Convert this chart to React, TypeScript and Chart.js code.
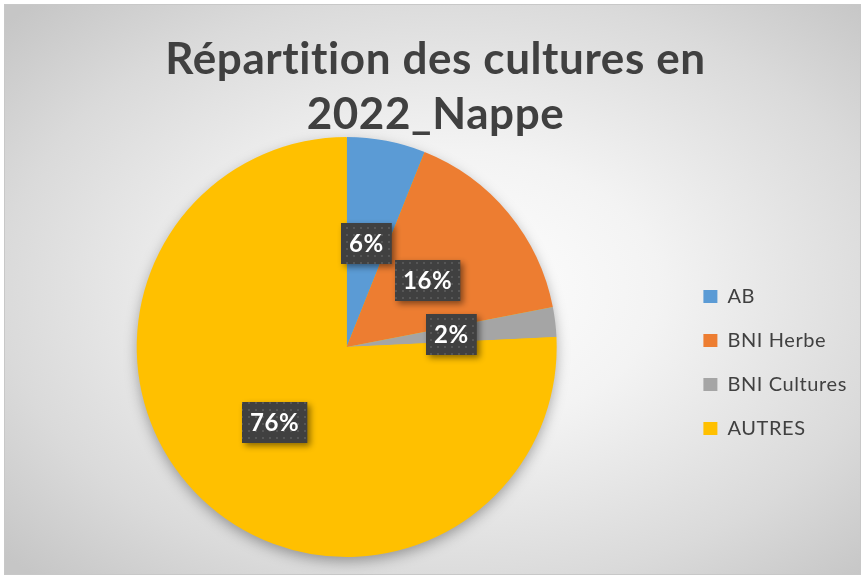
import React, { useEffect, useRef } from 'react';
import { Chart, registerables } from 'chart.js';

Chart.register(...registerables);

const categories = ['AB', 'BNI Herbe', 'BNI Cultures', 'AUTRES'];
const values = [6.05, 15.9, 2.3, 75.75];
const colors = ['#5B9BD5', '#ED7D31', '#A5A5A5', '#FFC000'];
const titleLines = ['Répartition des cultures en', '2022_Nappe'];

const FONT = 'Lato, "Open Sans", sans-serif';

function setText(ctx: any) {
  ctx.letterSpacing = '0.6px';
  ctx.textRendering = 'optimizeSpeed';
}

const spacing = {
  id: 'spacing',
  beforeInit(chart: any) {
    setText(chart.ctx);
  },
  beforeUpdate(chart: any) {
    setText(chart.ctx);
  },
  beforeDraw(chart: any) {
    setText(chart.ctx);
  },
};

const pieShadow = {
  id: 'pieShadow',
  beforeDatasetsDraw(chart: any) {
    const meta = chart.getDatasetMeta(0);
    const arc = meta.data[0];
    if (!arc) return;
    const ctx = chart.ctx;
    ctx.save();
    ctx.shadowColor = 'rgba(0,0,0,0.35)';
    ctx.shadowBlur = 14;
    ctx.shadowOffsetY = 5;
    ctx.beginPath();
    ctx.arc(arc.x, arc.y, arc.outerRadius - 1, 0, Math.PI * 2);
    ctx.fillStyle = colors[3];
    ctx.fill();
    ctx.restore();
  },
};

const boxLabels = {
  id: 'boxLabels',
  afterDatasetsDraw(chart: any) {
    const ctx = chart.ctx;
    const ds = chart.data.datasets[0];
    const total = (ds.data as number[]).reduce((a, b) => a + b, 0);
    const pc = document.createElement('canvas');
    pc.width = 7;
    pc.height = 7;
    const p = pc.getContext('2d')!;
    p.fillStyle = '#404040';
    p.fillRect(0, 0, 7, 7);
    p.fillStyle = '#565656';
    p.fillRect(3, 3, 2, 2);
    const pattern = ctx.createPattern(pc, 'repeat');
    const meta = chart.getDatasetMeta(0);
    meta.data.forEach((arc: any, i: number) => {
      const pos = arc.tooltipPosition();
      const txt = Math.round((ds.data[i] / total) * 100) + '%';
      ctx.save();
      ctx.font = `bold 24px ${FONT}`;
      const w = ctx.measureText(txt).width + 16;
      const h = 41;
      const x = Math.round(pos.x - w / 2);
      const y = Math.round(pos.y - h / 2);
      ctx.shadowColor = 'rgba(0,0,0,0.45)';
      ctx.shadowBlur = 6;
      ctx.shadowOffsetX = 3;
      ctx.shadowOffsetY = 3;
      ctx.fillStyle = pattern || '#404040';
      ctx.fillRect(x, y, w, h);
      ctx.shadowColor = 'transparent';
      ctx.fillStyle = '#ffffff';
      ctx.textAlign = 'center';
      ctx.textBaseline = 'middle';
      ctx.fillText(txt, x + w / 2, y + h / 2 + 1);
      ctx.restore();
    });
  },
};

export default function App() {
  const ref = useRef<HTMLCanvasElement>(null);
  useEffect(() => {
    if (!ref.current) return;
    const chart = new Chart(ref.current, {
      type: 'pie',
      data: {
        labels: categories,
        datasets: [
          {
            data: values,
            backgroundColor: colors,
            borderWidth: 0,
          },
        ],
      },
      options: {
        animation: false,
        responsive: false,
        devicePixelRatio: 1,
        layout: { padding: { left: 14, right: 8, top: 0, bottom: 22 } },
        plugins: {
          tooltip: { enabled: false },
          title: {
            display: true,
            text: titleLines,
            color: '#404040',
            font: { family: FONT, size: 44, weight: 'bold', lineHeight: 1.25 },
            padding: { top: 32, bottom: -5 },
          },
          legend: {
            position: 'right',
            title: { display: true, text: '', font: { size: 10, lineHeight: 1 }, padding: 79 },
            labels: {
              boxWidth: 14,
              boxHeight: 13,
              padding: 24,
              color: '#404040',
              font: { family: FONT, size: 20 },
            },
          },
        },
      },
      plugins: [spacing, pieShadow, boxLabels],
    });
    return () => chart.destroy();
  }, []);

  return (
    <div style={{ position: 'fixed', left: 0, top: 0, width: 865, height: 579, background: '#ffffff' }}>
      <div
        style={{
          position: 'absolute',
          left: 4,
          top: 4,
          width: 855,
          height: 569,
          border: '1px solid #c8c8c8',
          background:
            'radial-gradient(ellipse 70% 70% at 52% 50%, #ffffff 0%, #f3f3f3 35%, #dadada 75%, #c6c6c6 100%)',
        }}
      />
      <canvas
        ref={ref}
        width={865}
        height={579}
        style={{ position: 'absolute', left: 0, top: 0, width: 865, height: 579 }}
      />
    </div>
  );
}
